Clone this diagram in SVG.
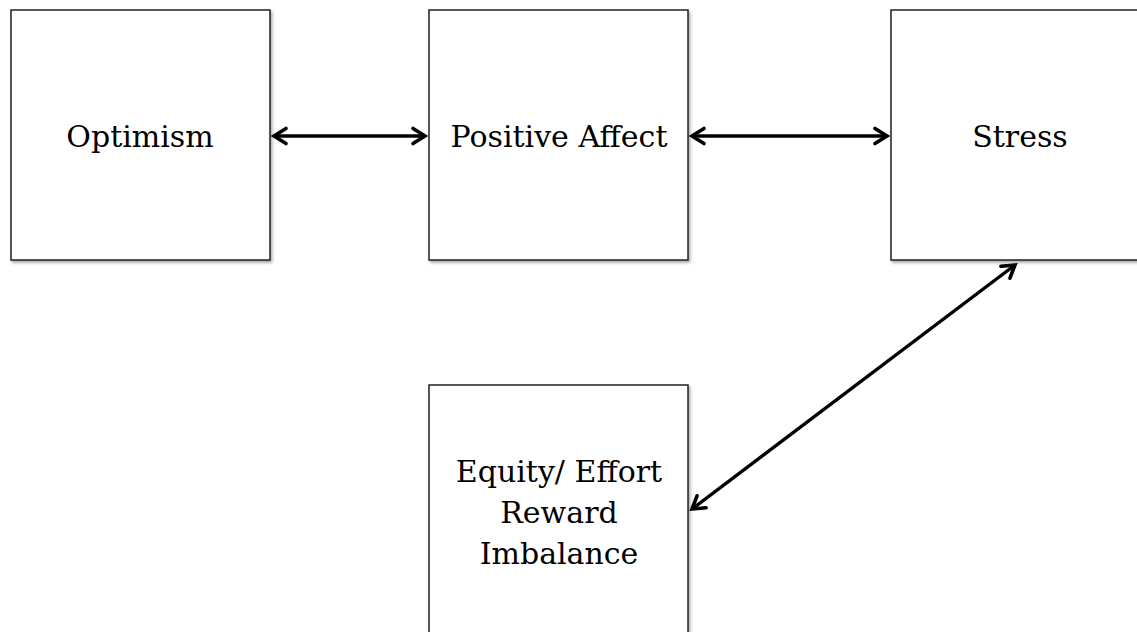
<svg xmlns="http://www.w3.org/2000/svg" width="1137" height="632" viewBox="0 0 1137 632">
<style>
.box{fill:#fff;stroke:#222;stroke-width:1.5;filter:url(#sh)}
.lbl{font-family:"DejaVu Serif","Liberation Serif",serif;font-size:30px;fill:#000;text-anchor:middle}
.con{stroke:#000;stroke-width:3.4;fill:none;marker-start:url(#ah);marker-end:url(#ah)}
</style>
<defs>
<filter id="sh" x="-5%" y="-5%" width="115%" height="115%">
<feDropShadow dx="1.5" dy="2" stdDeviation="1.5" flood-color="#000" flood-opacity="0.35"/>
</filter>
<marker id="ah" markerUnits="userSpaceOnUse" viewBox="-16 -10 20 20" refX="0" refY="0" markerWidth="20" markerHeight="20" orient="auto-start-reverse" overflow="visible">
<path d="M-12,-7.5 L0,0 L-12,7.5" fill="none" stroke="#000" stroke-width="3.6" stroke-linejoin="miter" stroke-linecap="round"/>
</marker>
</defs>
<rect width="1137" height="632" fill="#fff"/>
<g id="optimism"><rect class="box" x="11" y="10" width="259" height="250"/><text class="lbl" x="140" y="147">Optimism</text></g>
<g id="positive-affect"><rect class="box" x="429" y="10" width="259" height="250"/><text class="lbl" x="559" y="147">Positive Affect</text></g>
<g id="stress"><rect class="box" x="891" y="10" width="260" height="250"/><text class="lbl" x="1020" y="147">Stress</text></g>
<g id="equity"><rect class="box" x="429" y="385" width="259" height="260"/><text class="lbl" x="559" y="482">Equity/ Effort</text><text class="lbl" x="559" y="523">Reward</text><text class="lbl" x="559" y="564">Imbalance</text></g>
<g id="connectors">
<line class="con" x1="274" y1="136" x2="425" y2="136"/>
<line class="con" x1="692" y1="136" x2="887" y2="136"/>
<line class="con" x1="1015" y1="265" x2="692" y2="509"/>
</g>
</svg>
